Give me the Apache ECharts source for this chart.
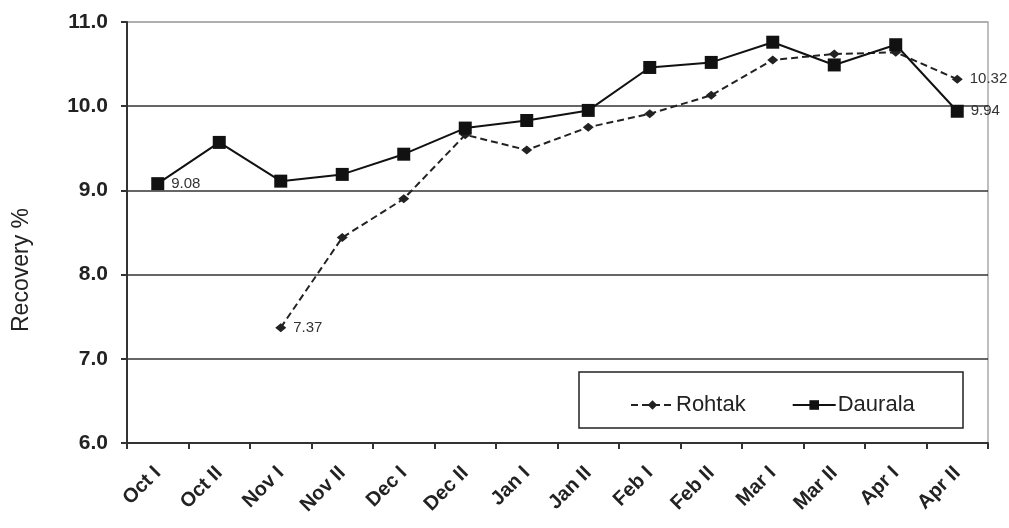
<!DOCTYPE html>
<html>
<head>
<meta charset="utf-8">
<script src="https://cdn.jsdelivr.net/npm/echarts@6/dist/echarts.min.js"></script>
<style>
  html, body { margin: 0; padding: 0; background: #fff; }
  #chart { width: 1009px; height: 528px; }
</style>
</head>
<body>
<div id="chart"></div>
<script>
// half-month periods
const categories = ['Oct I', 'Oct II', 'Nov I', 'Nov II', 'Dec I', 'Dec II', 'Jan I', 'Jan II',
    'Feb I', 'Feb II', 'Mar I', 'Mar II', 'Apr I', 'Apr II'];
const rohtak = [null, null, 7.37, 8.44, 8.90, 9.66, 9.48, 9.75, 9.91, 10.13, 10.55, 10.62, 10.64, 10.32];
const daurala = [9.08, 9.57, 9.11, 9.19, 9.43, 9.74, 9.83, 9.95, 10.46, 10.52, 10.76, 10.49, 10.73, 9.94];
const yTicks = [6, 7, 8, 9, 10, 11];

const font = 'Liberation Sans, Arial, sans-serif';

// label only the first and last real value of a series
function withEndLabels(values) {
    let first = values.findIndex(v => v != null);
    let last = values.length - 1 - [...values].reverse().findIndex(v => v != null);
    return values.map((v, i) => {
        if (v == null) return null;
        if (i === first || i === last) {
            return { value: v, label: { show: true } };
        }
        return v;
    });
}

const labelStyle = {
    position: 'right',
    distance: 7,
    fontFamily: font,
    fontSize: 15,
    color: '#333',
    formatter: p => p.value.toFixed(2)
};

const chart = echarts.init(document.getElementById('chart'));
chart.setOption({
    animation: false,
    grid: {
        left: 127, right: 21, top: 22, bottom: 85,
        show: true,
        borderColor: '#aaa',
        borderWidth: 1.5
    },
    graphic: [{
        type: 'rect',
        shape: { x: 579, y: 372, width: 384, height: 56 },
        style: { fill: '#fff', stroke: '#222', lineWidth: 1.5 },
        z: 5
    }, {
        type: 'text',
        x: 22,
        y: 270,
        rotation: Math.PI / 2,
        style: {
            text: 'Recovery %',
            fontFamily: font,
            fontSize: 23,
            fill: '#222',
            align: 'center',
            verticalAlign: 'middle'
        }
    }],
    legend: {
        left: 625,
        top: 389,
        itemWidth: 43,
        itemHeight: 12,
        itemGap: 46,
        z: 10,
        textStyle: { fontFamily: font, fontSize: 22, color: '#222', padding: [0, 0, 0, -3] },
        data: ['Rohtak', 'Daurala']
    },
    xAxis: {
        type: 'category',
        data: categories,
        boundaryGap: true,
        axisLine: { lineStyle: { color: '#333', width: 2 } },
        axisTick: { show: true, length: 6, lineStyle: { color: '#333', width: 2 } },
        axisLabel: {
            interval: 0,
            rotate: 45,
            margin: 27,
            fontFamily: font,
            fontWeight: 'bold',
            fontSize: 20,
            color: '#222'
        }
    },
    yAxis: {
        type: 'value',
        min: 6,
        max: 11,
        interval: 1,
        axisLine: { show: true, lineStyle: { color: '#333', width: 2 } },
        axisTick: { show: true, length: 6, lineStyle: { color: '#333', width: 2 } },
        axisLabel: {
            margin: 19,
            fontFamily: font,
            fontWeight: 'bold',
            fontSize: 21,
            color: '#222',
            formatter: v => yTicks.includes(v) ? v.toFixed(1) : ''
        },
        splitLine: {
            show: true,
            lineStyle: { color: ['#333', '#333', '#333', '#333', '#333', '#aaa'], width: 1.5 }
        }
    },
    series: [
        {
            name: 'Rohtak',
            type: 'line',
            data: withEndLabels(rohtak),
            symbol: 'diamond',
            symbolSize: [11, 9],
            itemStyle: { color: '#222' },
            lineStyle: { color: '#222', width: 2, type: [7, 4] },
            label: labelStyle,
            z: 3
        },
        {
            name: 'Daurala',
            type: 'line',
            data: withEndLabels(daurala),
            symbol: 'rect',
            symbolSize: 13,
            itemStyle: { color: '#111' },
            lineStyle: { color: '#111', width: 2 },
            label: labelStyle,
            z: 4
        }
    ]
});
</script>
</body>
</html>
